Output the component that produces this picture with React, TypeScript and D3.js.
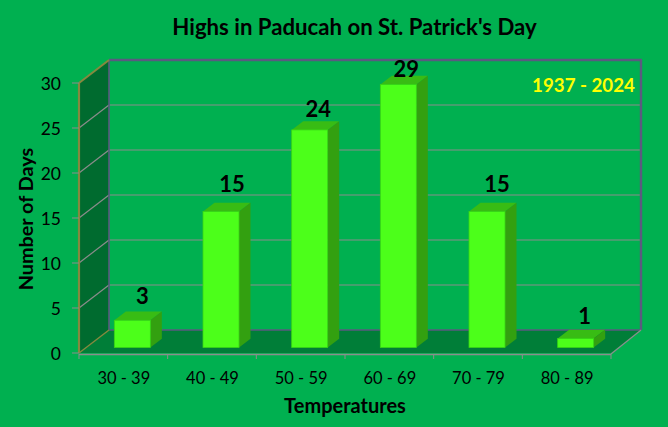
import * as d3 from 'd3'

const categories = ['30 - 39', '40 - 49', '50 - 59', '60 - 69', '70 - 79', '80 - 89']
const values = [3, 15, 24, 29, 15, 1]
const yTicks = [0, 5, 10, 15, 20, 25, 30]

const title = "Highs in Paducah on St. Patrick's Day"
const note = '1937 - 2024'

const W = 668
const H = 427
const FONT = 'Lato, Carlito, sans-serif'

// front plane of the 3d box, the back wall is shifted by depth
const left = 79
const right = 611
const top = 83
const bottom = 353
const depthX = 30
const depthY = -23

// bars stand a bit into the floor
const barDX = 9
const barBase = 347.5
const barW = 36
const sideX = 11.5
const sideY = -8.7

// excel nudged the data labels by hand, these are dx / gap above the bar front
const labelDX = [10, 11, 8.5, 8, 10, 9]
const labelGap = [16, 20, 13, 8, 20, 14]

export default function App() {
  const x = d3.scaleBand<string>().domain(categories).range([left, right])
  const y = d3.scaleLinear().domain([0, 30]).range([bottom, top])
  const barY = d3.scaleLinear().domain([0, 30]).range([barBase, barBase - 272])

  const bars = categories.map((c, i) => {
    const x0 = x(c)! + x.bandwidth() / 2 - barW / 2 + barDX
    const x1 = x0 + barW
    const y0 = barY(0)
    const y1 = barY(values[i])
    return { c, v: values[i], x0, x1, y0, y1, i }
  })

  const poly = d3.line()
  const pts = (p: [number, number][]) => poly(p)! + 'Z'

  return (
    <svg
      width={W}
      height={H}
      viewBox={`0 0 ${W} ${H}`}
      style={{ position: 'absolute', left: 0, top: 0, background: '#00B050' }}
      fontFamily={FONT}
    >
      {/* side wall and floor */}
      <path
        d={pts([[left, top], [left + depthX, top + depthY], [left + depthX, bottom + depthY], [left, bottom]])}
        fill="#006B2F"
      />
      <path
        d={pts([[left, bottom], [left + depthX, bottom + depthY], [right + depthX, bottom + depthY], [right, bottom]])}
        fill="#007E38"
      />

      {/* gridlines */}
      {yTicks.slice(1, -1).map((t) => (
        <g key={t} stroke="#8C8C8C" strokeWidth={1.2} fill="none">
          <line x1={left} y1={y(t)} x2={left + depthX} y2={y(t) + depthY} />
          <line x1={left + depthX} y1={y(t) + depthY} x2={right + depthX} y2={y(t) + depthY} />
        </g>
      ))}

      {/* back wall edges */}
      <g stroke="#5A5A80" fill="none">
        <line x1={left + depthX} y1={top + depthY} x2={right + depthX + 1} y2={top + depthY} strokeWidth={2.4} />
        <line x1={right + depthX} y1={top + depthY} x2={right + depthX} y2={bottom + depthY} strokeWidth={2.4} />
        <line x1={left + depthX} y1={top + depthY} x2={left + depthX} y2={bottom + depthY} strokeWidth={1.6} />
        <line x1={left + depthX} y1={bottom + depthY} x2={right + depthX} y2={bottom + depthY} strokeWidth={1.6} />
      </g>

      {/* left axis */}
      <g stroke="#86883F" fill="none">
        <line x1={left} y1={top} x2={left} y2={bottom} strokeWidth={2.2} />
        <line x1={left} y1={top} x2={left + depthX} y2={top + depthY} strokeWidth={2} />
        <line x1={left} y1={bottom} x2={left + depthX} y2={bottom + depthY} strokeWidth={1.4} />
      </g>
      {yTicks.map((t) => (
        <g key={t}>
          <line x1={left - 7} y1={y(t)} x2={left} y2={y(t)} stroke="#8C8C8C" strokeWidth={1} />
          <text x={left - 18} y={y(t) + 7} textAnchor="end" fontSize={17.5} fill="#000">
            {t}
          </text>
        </g>
      ))}

      {/* bottom axis */}
      <line x1={left} y1={bottom + 1.5} x2={right} y2={bottom + 1.5} stroke="#8C8C8C" strokeWidth={1.6} />
      <line x1={right} y1={bottom + 1} x2={right + depthX} y2={bottom + depthY} stroke="#8C8C8C" strokeWidth={1.2} />
      {categories.map((c) => (
        <line key={c} x1={x(c)!} y1={bottom + 1} x2={x(c)!} y2={bottom + 6} stroke="#8C8C8C" strokeWidth={1} />
      ))}
      <line x1={right} y1={bottom + 1} x2={right} y2={bottom + 6} stroke="#8C8C8C" strokeWidth={1} />
      {categories.map((c) => (
        <text key={c} x={x(c)! + x.bandwidth() / 2 + 0.5} y={384} textAnchor="middle" fontSize={16.5} fill="#000">
          {c}
        </text>
      ))}

      {/* bars */}
      {bars.map((b) => (
        <g key={b.c}>
          <path
            d={pts([[b.x0, b.y1], [b.x0 + sideX, b.y1 + sideY], [b.x1 + sideX, b.y1 + sideY], [b.x1, b.y1]])}
            fill="#38BC14"
          />
          <path
            d={pts([[b.x1, b.y1], [b.x1 + sideX, b.y1 + sideY], [b.x1 + sideX, b.y0 + sideY], [b.x1, b.y0]])}
            fill="#33A010"
          />
          <rect x={b.x0} y={b.y1} width={barW} height={b.y0 - b.y1} fill="#4CFF1A" stroke="#38D414" strokeWidth={0.8} />
          <text
            x={(b.x0 + b.x1) / 2 + labelDX[b.i]}
            y={b.y1 - labelGap[b.i]}
            textAnchor="middle"
            fontSize={22}
            fontWeight={700}
            fill="#000"
          >
            {b.v}
          </text>
        </g>
      ))}

      <text x={354.5} y={35} textAnchor="middle" fontSize={22.2} fontWeight={700} fill="#000">
        {title}
      </text>
      <text x={583.5} y={92} textAnchor="middle" fontSize={18.7} fontWeight={700} fill="#FFFF00">
        {note}
      </text>
      <text
        transform="translate(33,219) rotate(-90)"
        textAnchor="middle"
        fontSize={19.8}
        fontWeight={700}
        fill="#000"
      >
        Number of Days
      </text>
      <text x={345} y={413} textAnchor="middle" fontSize={20} fontWeight={700} fill="#000">
        Temperatures
      </text>
    </svg>
  )
}
